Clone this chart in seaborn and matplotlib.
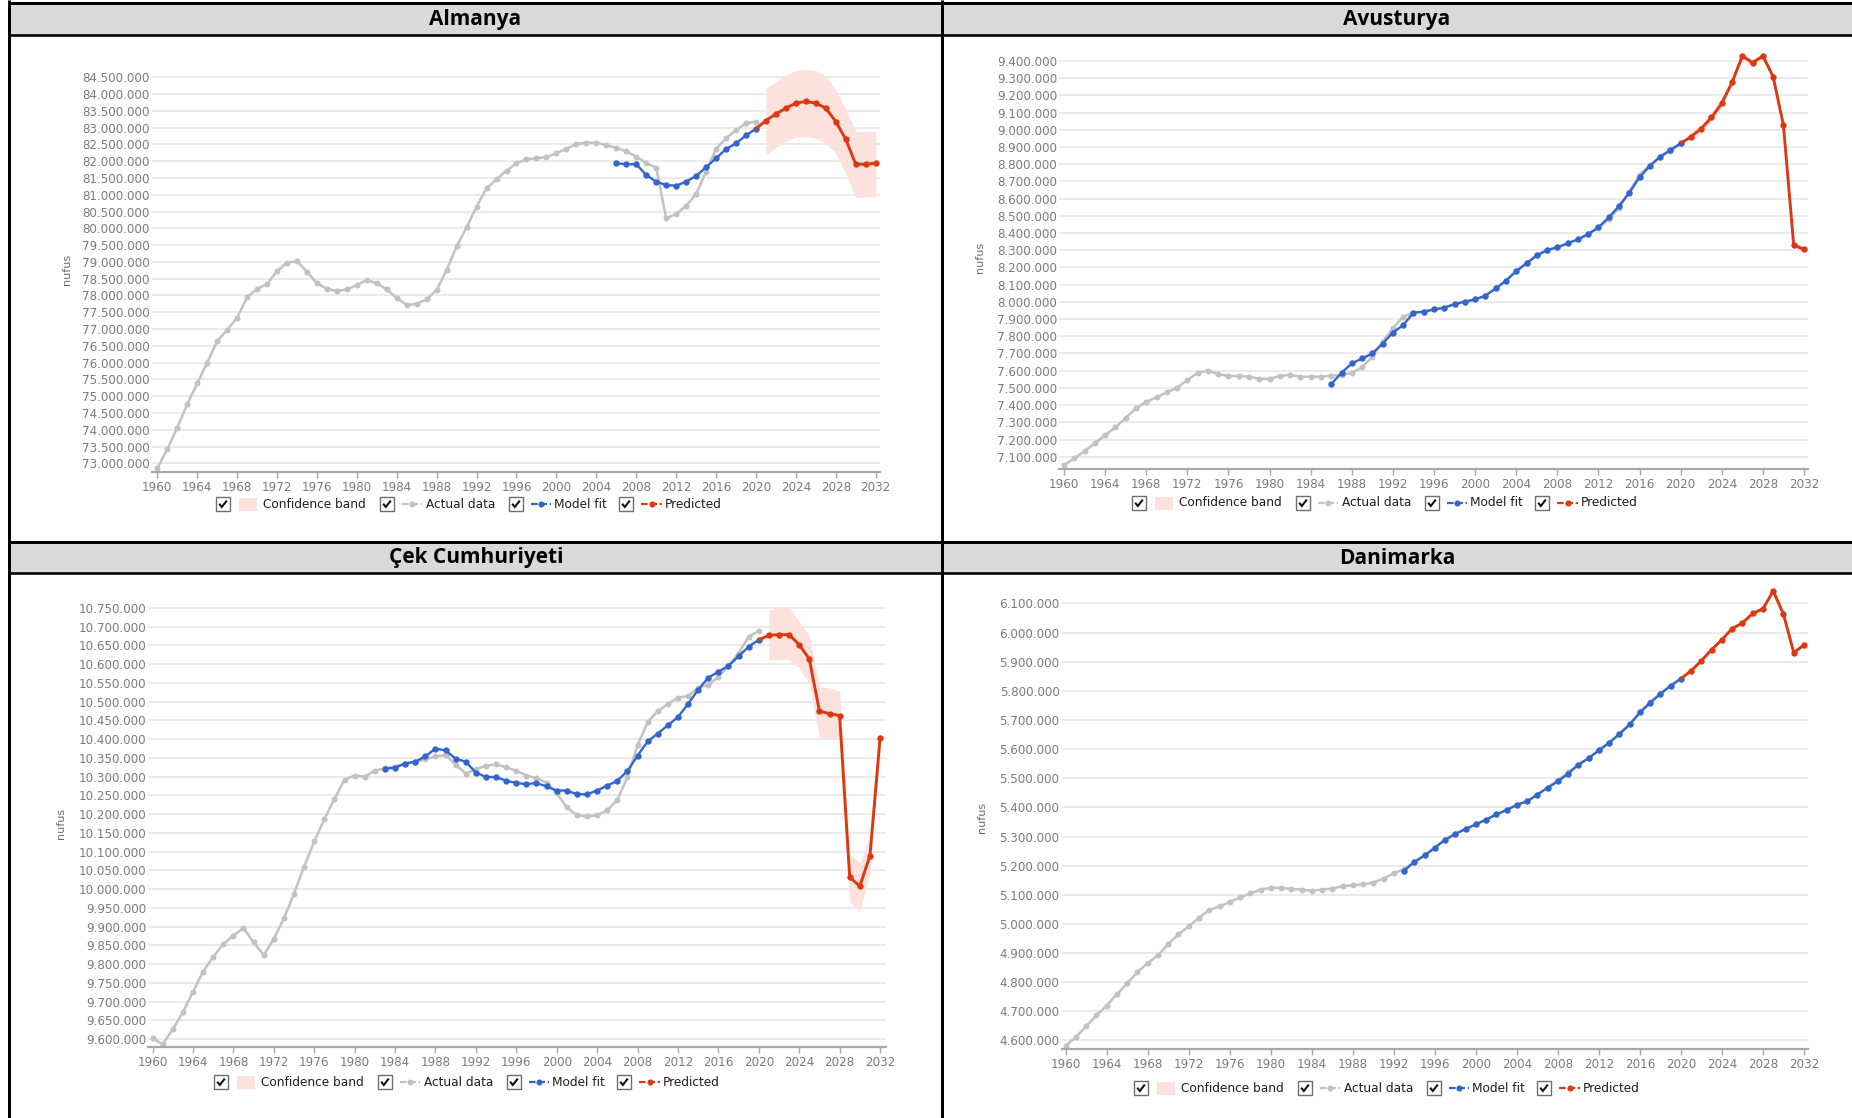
import numpy as np
import matplotlib
matplotlib.use("Agg")
import matplotlib.pyplot as plt
from matplotlib.patches import Rectangle
from matplotlib.ticker import FuncFormatter
import seaborn as sns

# ---------------------------------------------------------------- data (millions)
years_actual = list(range(1960, 2021))
years_pred = list(range(2021, 2033))

de_title = "Almanya"
de_actual = [72.85, 73.42, 74.06, 74.76, 75.38, 76.00, 76.64, 76.97, 77.34, 77.94,
             78.20, 78.34, 78.72, 78.98, 79.02, 78.71, 78.36, 78.20, 78.13, 78.18,
             78.31, 78.46, 78.36, 78.18, 77.92, 77.72, 77.75, 77.89, 78.16, 78.76,
             79.46, 80.03, 80.65, 81.19, 81.46, 81.72, 81.94, 82.06, 82.09, 82.12,
             82.24, 82.37, 82.51, 82.55, 82.55, 82.48, 82.40, 82.29, 82.14, 81.94,
             81.81, 80.30, 80.43, 80.67, 81.02, 81.69, 82.37, 82.68, 82.93, 83.13,
             83.18]
de_fit_start = 2006
de_fit = [81.94, 81.91, 81.91, 81.59, 81.39, 81.29, 81.27, 81.39, 81.56, 81.82,
          82.09, 82.36, 82.53, 82.77, 82.97]
de_pred = [83.21, 83.41, 83.58, 83.73, 83.78, 83.73, 83.58, 83.18, 82.65, 81.91, 81.91, 81.94]
de_upper = [84.17, 84.37, 84.57, 84.70, 84.74, 84.70, 84.54, 84.12, 83.55, 82.88, 82.88, 82.88]
de_lower = [82.19, 82.41, 82.61, 82.73, 82.73, 82.68, 82.53, 82.24, 81.64, 80.92, 80.93, 80.94]

at_title = "Avusturya"
at_actual = [7.051, 7.090, 7.133, 7.177, 7.226, 7.270, 7.326, 7.381, 7.419, 7.445,
             7.474, 7.501, 7.545, 7.588, 7.600, 7.580, 7.569, 7.569, 7.565, 7.553,
             7.553, 7.569, 7.576, 7.565, 7.565, 7.565, 7.571, 7.575, 7.588, 7.619,
             7.681, 7.768, 7.846, 7.914, 7.937, 7.943, 7.956, 7.966, 7.987, 8.001,
             8.014, 8.036, 8.078, 8.123, 8.179, 8.224, 8.270, 8.301, 8.317, 8.340,
             8.363, 8.394, 8.430, 8.480, 8.545, 8.640, 8.740, 8.795, 8.840, 8.878,
             8.917]
at_fit_start = 1986
at_fit = [7.522, 7.588, 7.642, 7.671, 7.700, 7.758, 7.821, 7.865, 7.937, 7.943,
          7.956, 7.966, 7.987, 8.001, 8.014, 8.036, 8.078, 8.123, 8.179, 8.224,
          8.270, 8.301, 8.317, 8.340, 8.363, 8.394, 8.433, 8.491, 8.557, 8.634,
          8.724, 8.790, 8.844, 8.883, 8.921]
at_pred = [8.960, 9.007, 9.072, 9.154, 9.276, 9.429, 9.390, 9.429, 9.309, 9.026, 8.330, 8.305]
at_upper = [8.985, 9.032, 9.097, 9.176, 9.296, 9.447, 9.410, 9.447, 9.327, 9.044, 8.350, 8.322]
at_lower = [8.935, 8.982, 9.047, 9.132, 9.256, 9.411, 9.370, 9.411, 9.291, 9.008, 8.310, 8.288]

cz_title = "Çek Cumhuriyeti"
cz_actual = [9.602, 9.586, 9.626, 9.671, 9.726, 9.780, 9.819, 9.853, 9.876, 9.896,
             9.858, 9.824, 9.867, 9.922, 9.988, 10.060, 10.127, 10.186, 10.241, 10.292,
             10.303, 10.300, 10.316, 10.322, 10.327, 10.335, 10.339, 10.346, 10.354, 10.358,
             10.332, 10.308, 10.320, 10.329, 10.333, 10.325, 10.316, 10.303, 10.296, 10.284,
             10.256, 10.218, 10.197, 10.194, 10.197, 10.210, 10.238, 10.299, 10.384, 10.445,
             10.475, 10.494, 10.511, 10.515, 10.537, 10.545, 10.566, 10.596, 10.630, 10.673,
             10.689]
cz_fit_start = 1983
cz_fit = [10.321, 10.324, 10.335, 10.340, 10.354, 10.375, 10.370, 10.348, 10.340, 10.311,
          10.299, 10.299, 10.289, 10.283, 10.280, 10.283, 10.274, 10.263, 10.263, 10.253,
          10.253, 10.263, 10.276, 10.289, 10.315, 10.356, 10.394, 10.415, 10.437, 10.459,
          10.494, 10.532, 10.564, 10.580, 10.596, 10.621, 10.647, 10.665]
cz_pred = [10.677, 10.679, 10.679, 10.652, 10.614, 10.475, 10.468, 10.463, 10.031, 10.008, 10.089, 10.402]
cz_upper = [10.745, 10.752, 10.752, 10.714, 10.676, 10.539, 10.537, 10.528, 10.093, 10.070, 10.141, 10.427]
cz_lower = [10.612, 10.612, 10.612, 10.590, 10.547, 10.405, 10.404, 10.399, 9.965, 9.941, 10.041, 10.375]

dk_title = "Danimarka"
dk_actual = [4.582, 4.612, 4.649, 4.686, 4.720, 4.759, 4.796, 4.835, 4.866, 4.892,
             4.931, 4.964, 4.992, 5.021, 5.048, 5.060, 5.075, 5.091, 5.105, 5.118,
             5.124, 5.124, 5.120, 5.118, 5.114, 5.118, 5.121, 5.130, 5.133, 5.136,
             5.142, 5.156, 5.174, 5.188, 5.213, 5.235, 5.262, 5.289, 5.309, 5.326,
             5.342, 5.358, 5.376, 5.391, 5.409, 5.421, 5.444, 5.468, 5.494, 5.520,
             5.547, 5.569, 5.596, 5.622, 5.652, 5.685, 5.726, 5.762, 5.790, 5.818,
             5.842]
dk_fit_start = 1993
dk_fit = [5.183, 5.213, 5.235, 5.262, 5.289, 5.309, 5.326, 5.342, 5.358, 5.376,
          5.391, 5.409, 5.421, 5.444, 5.468, 5.489, 5.516, 5.547, 5.569, 5.596,
          5.622, 5.652, 5.685, 5.726, 5.759, 5.790, 5.818, 5.842]
dk_pred = [5.869, 5.904, 5.942, 5.976, 6.014, 6.033, 6.066, 6.082, 6.143, 6.063, 5.931, 5.958]
dk_upper = [5.872, 5.907, 5.945, 5.979, 6.017, 6.036, 6.069, 6.085, 6.146, 6.066, 5.934, 5.961]
dk_lower = [5.866, 5.901, 5.939, 5.973, 6.011, 6.030, 6.063, 6.079, 6.140, 6.060, 5.928, 5.955]

# y tick ranges (millions): start, stop, step
de_ticks = (73.0, 84.5, 0.5)
at_ticks = (7.1, 9.4, 0.1)
cz_ticks = (9.6, 10.75, 0.05)
dk_ticks = (4.6, 6.1, 0.1)

legend_labels = ["Confidence band", "Actual data", "Model fit", "Predicted"]
y_label = "nufus"

# ---------------------------------------------------------------- style
W, H = 1852, 1118
C_ACT = "#c2c2c2"
C_FIT = "#3366cc"
C_PRED = "#dc3912"
C_BAND = "#fde1dc"
C_TICK = "#7b7b7b"
C_AXIS = "#a8a8a8"
C_GRID = "#e7e7e7"

sns.set_theme(style="white")
plt.rcParams["font.family"] = ["DejaVu Sans"]

fig = plt.figure(figsize=(W / 100, H / 100), dpi=100)
fig.patch.set_facecolor("white")

# background canvas in pixel coordinates (y grows downward)
bg = fig.add_axes([0, 0, 1, 1])
bg.set_xlim(0, W)
bg.set_ylim(H, 0)
bg.axis("off")
bg.set_zorder(0)

PX = 0.72  # points per pixel

# table frame with grey header bars
for top, bot in [(2.5, 35.0), (541.5, 573.0)]:
    bg.add_patch(Rectangle((8, top), W - 8, bot - top, fc="#d9d9d9", ec="none", zorder=1))
    bg.plot([8, W], [top, top], color="black", lw=3 * PX, zorder=3, solid_capstyle="butt")
    bg.plot([8, W], [bot, bot], color="black", lw=2.6 * PX, zorder=3, solid_capstyle="butt")
for xv in (8.5, 941.5):
    bg.plot([xv, xv], [0, H], color="black", lw=3 * PX, zorder=3, solid_capstyle="butt")

title_font = dict(family=["Open Sans", "DejaVu Sans"], fontweight="bold", fontsize=15,
                  color="black", ha="center", va="center", zorder=4)
for txt, (cx, cy) in zip([de_title, at_title, cz_title, dk_title],
                         [(475, 19.5), (1397, 19.5), (476, 558), (1397, 558)]):
    bg.text(cx, cy, txt, **title_font)


def thousands(v, _pos):
    return f"{int(round(v)):,}".replace(",", ".")


def draw_checkbox(x, yc):
    bg.add_patch(Rectangle((x, yc - 7), 14, 14, fc="white", ec="#6e6e6e", lw=1.0, zorder=4))
    bg.plot([x + 3.2, x + 5.8, x + 10.8], [yc - 0.3, yc + 3.0, yc - 3.4], color="#111111",
            lw=1.5, zorder=5, solid_capstyle="butt", solid_joinstyle="miter")


def draw_sample(x0, x1, yc, color):
    bg.plot([x0, x1], [yc, yc], color=color, lw=1.6, dashes=(3, 1.2), zorder=4)
    bg.plot([(x0 + x1) / 2], [yc], "o", color=color, ms=4.4, mew=0, zorder=5)


def draw_legend(x, yc):
    kw = dict(fontsize=8.7, color="#1e1e1e", va="center", ha="left", zorder=4)
    draw_checkbox(x, yc)
    bg.add_patch(Rectangle((x + 23, yc - 6.5), 18, 13, fc=C_BAND, ec="none", zorder=4))
    bg.text(x + 47, yc, legend_labels[0], **kw)
    draw_checkbox(x + 164, yc)
    draw_sample(x + 186, x + 206, yc, C_ACT)
    bg.text(x + 210, yc, legend_labels[1], **kw)
    draw_checkbox(x + 293, yc)
    draw_sample(x + 315, x + 335, yc, C_FIT)
    bg.text(x + 338, yc, legend_labels[2], **kw)
    draw_checkbox(x + 403, yc)
    draw_sample(x + 425, x + 446, yc, C_PRED)
    bg.text(x + 449, yc, legend_labels[3], **kw)


panels = [
    dict(actual=de_actual, fit=de_fit, fit_start=de_fit_start, pred=de_pred,
         upper=de_upper, lower=de_lower, ticks=de_ticks,
         rect=(152, 60, 880, 471.7), xlim=(1959.47, 2032.43), ylim=(72.75, 85.015),
         ylab=(67, 269), legend=(216, 504)),
    dict(actual=at_actual, fit=at_fit, fit_start=at_fit_start, pred=at_pred,
         upper=at_upper, lower=at_lower, ticks=at_ticks,
         rect=(1059.3, 50, 1808.3, 469.3), xlim=(1959.54, 2032.42), ylim=(7.0268, 9.464),
         ylab=(980, 257), legend=(1132, 503)),
    dict(actual=cz_actual, fit=cz_fit, fit_start=cz_fit_start, pred=cz_pred,
         upper=cz_upper, lower=cz_lower, ticks=cz_ticks,
         rect=(148.3, 595, 886, 1047.2), xlim=(1959.58, 2032.59), ylim=(9.5781, 10.7847),
         ylab=(61, 823), legend=(214, 1082)),
    dict(actual=dk_actual, fit=dk_fit, fit_start=dk_fit_start, pred=dk_pred,
         upper=dk_upper, lower=dk_lower, ticks=dk_ticks,
         rect=(1061.7, 585, 1808.3, 1049.4), xlim=(1959.61, 2032.42), ylim=(4.5694, 6.1635),
         ylab=(982, 817), legend=(1134, 1088)),
]

for p in panels:
    l, t, r, b = p["rect"]
    ax = fig.add_axes([l / W, 1 - b / H, (r - l) / W, (b - t) / H])
    ax.set_zorder(2)
    ax.set_facecolor("none")

    actual = np.asarray(p["actual"]) * 1e6
    fit = np.asarray(p["fit"]) * 1e6
    pred = np.asarray(p["pred"]) * 1e6
    fit_years = list(range(p["fit_start"], p["fit_start"] + len(fit)))

    ax.fill_between(years_pred, np.asarray(p["lower"]) * 1e6, np.asarray(p["upper"]) * 1e6,
                    color=C_BAND, lw=0, zorder=1)

    sns.lineplot(x=years_actual, y=actual, ax=ax, color=C_ACT, linewidth=1.8,
                 marker="o", markersize=4.3, markeredgewidth=0, zorder=2)
    sns.lineplot(x=fit_years, y=fit, ax=ax, color=C_FIT, linewidth=1.7,
                 marker="o", markersize=4.6, markeredgewidth=0, zorder=3)
    pred_years = [fit_years[-1]] + years_pred
    pred_vals = np.concatenate([[fit[-1]], pred])
    sns.lineplot(x=pred_years, y=pred_vals, ax=ax, color=C_PRED, linewidth=2.1,
                 marker="o", markersize=4.6, markeredgewidth=0,
                 markevery=list(range(1, len(pred_vals))), zorder=4)

    ax.set_xlim(*p["xlim"])
    ax.set_ylim(p["ylim"][0] * 1e6, p["ylim"][1] * 1e6)
    y0, y1, step = p["ticks"]
    n = int(round((y1 - y0) / step)) + 1
    ax.set_yticks([round((y0 + i * step) * 1e6) for i in range(n)])
    ax.yaxis.set_major_formatter(FuncFormatter(thousands))
    ax.set_xticks(list(range(1960, 2033, 4)))
    ax.set_xlabel("")
    ax.set_ylabel("")

    ax.grid(axis="y", color=C_GRID, linewidth=1.2)
    ax.grid(axis="x", visible=False)
    for side in ("top", "right", "left"):
        ax.spines[side].set_visible(False)
    ax.spines["bottom"].set_color(C_AXIS)
    ax.spines["bottom"].set_linewidth(1.6)
    ax.tick_params(axis="x", length=4, width=1.0, color=C_AXIS, direction="out",
                   pad=2.5, labelsize=8.6, labelcolor=C_TICK, bottom=True)
    ax.tick_params(axis="y", length=0, pad=1.5, labelsize=8.6, labelcolor=C_TICK, left=True)

    bg.text(p["ylab"][0], p["ylab"][1], y_label, rotation=90, fontsize=8,
            color="#6a6a6a", ha="center", va="center", zorder=4)
    draw_legend(*p["legend"])

fig.savefig("out.png", dpi=100, facecolor="white")
